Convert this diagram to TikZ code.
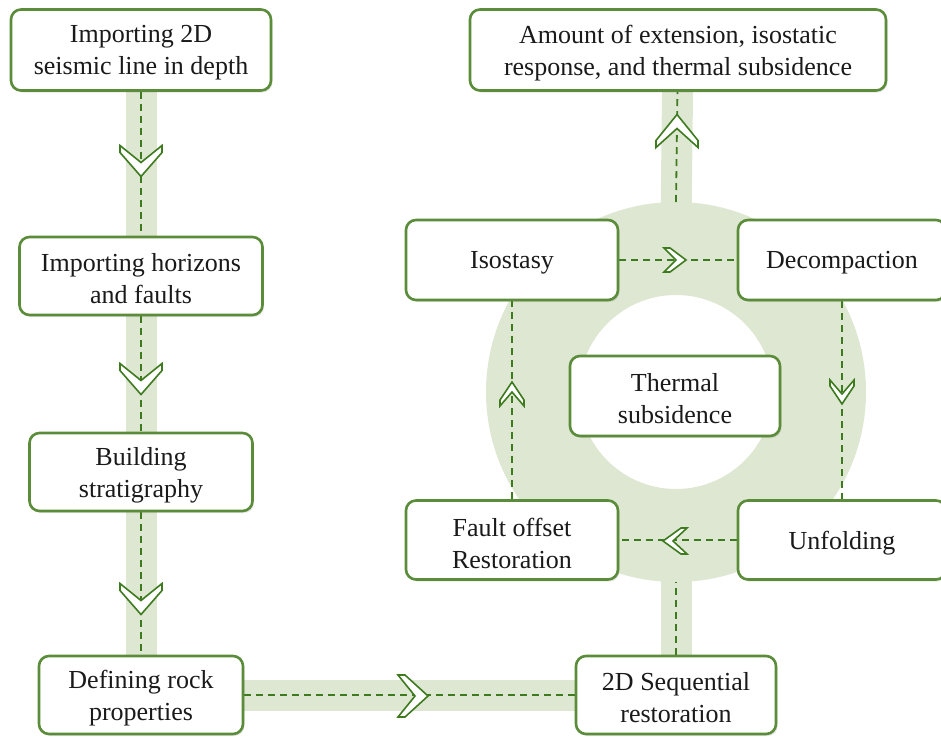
\documentclass[tikz,border=0pt]{standalone}
\usepackage{fontspec}
\setmainfont{Liberation Serif}
\usetikzlibrary{shadows}
\definecolor{boxgreen}{HTML}{5B8C3A}
\definecolor{bandgreen}{HTML}{DDE7D1}
\definecolor{dashgreen}{HTML}{3E7A1E}
\definecolor{txt}{HTML}{1A1A1A}
\newcommand\dn[1]{\raisebox{-3pt}[\height][\depth]{#1}}
\pgfdeclarelayer{bg}
\pgfdeclarelayer{mid}
\pgfsetlayers{bg,mid,main}
\tikzset{
  box/.style={draw=boxgreen, line width=2.6pt, rounded corners=10pt, fill=white,
    align=center, inner sep=0pt, text=txt, font=\fontsize{26}{32}\selectfont,
    drop shadow={shadow xshift=1.5pt, shadow yshift=-2pt, opacity=0.2}},
  bandline/.style={draw=bandgreen, line width=31pt},
  flow/.style={draw=dashgreen, line width=1.8pt, dash pattern=on 7pt off 5pt},
  chevline/.style={draw=dashgreen, fill=white, line width=1.6pt, line join=miter},
  pics/chev/.style n args={4}{code={
    \draw[chevline] (-#1/2,-#2) -- (-#1/2+#3,-#2) -- (#1/2,0) -- (-#1/2+#3,#2)
      -- (-#1/2,#2) -- (#1/2-#4,0) -- cycle;}}
}
\begin{document}
\begin{tikzpicture}[x=1pt,y=-1pt]
\useasboundingbox (0,0) rectangle (941,736);
% nodes
\node[box, minimum width=260pt, minimum height=81pt] (A) at (141,50) {\dn{Importing 2D}\\\dn{seismic line in depth}};
\node[box, minimum width=243pt, minimum height=78pt] (B) at (141,276) {\dn{Importing horizons}\\\dn{and faults}};
\node[box, minimum width=223pt, minimum height=78pt] (C) at (141,472) {\dn{Building}\\\dn{stratigraphy}};
\node[box, minimum width=204pt, minimum height=78pt] (D) at (141,695) {\dn{Defining rock}\\\dn{properties}};
\node[box, minimum width=200pt, minimum height=78pt] (E) at (676,695) {\dn{2D Sequential}\\\dn{restoration}};
\node[box, minimum width=212pt, minimum height=79pt] (F) at (512,540) {\dn{Fault offset}\\\dn{Restoration}};
\node[box, minimum width=208pt, minimum height=79pt] (G) at (842,540) {\dn{Unfolding}};
\node[box, minimum width=212pt, minimum height=80pt] (H) at (512,260) {\dn{Isostasy}};
\node[box, minimum width=208pt, minimum height=80pt] (I) at (842,260) {\dn{Decompaction}};
\node[box, minimum width=210pt, minimum height=80pt] (J) at (675,396) {\dn{Thermal}\\\dn{subsidence}};
\node[box, minimum width=416pt, minimum height=81pt] (K) at (678,50) {\dn{Amount of extension, isostatic}\\\dn{response, and thermal subsidence}};
\coordinate (ring) at (676,392);
\coordinate (ringtop) at (676,202);
\coordinate (ringbot) at (676,582);
\coordinate (ringtopin) at (676,225);
\coordinate (ringbotin) at (676,560);
% bands
\begin{pgfonlayer}{bg}
  \fill[bandgreen, even odd rule] (ring) circle[radius=190] (ring) circle[radius=97];
  \draw[bandline] (A.center) -- (D.center) -- (E.center);
  \draw[bandline] (E.center) -- (ringbotin);
  \draw[bandline] (K.center) -- (ringtopin);
\end{pgfonlayer}
% connectors and chevrons
\begin{pgfonlayer}{mid}
  \draw[flow] (A) -- (B);
  \draw[flow] (B) -- (C);
  \draw[flow] (C) -- (D);
  \draw[flow] (D) -- (E);
  \draw[flow] (E) -- (ringbot);
  \draw[flow] (ringtop) -- (K);
  \draw[flow] (H) -- (I);
  \draw[flow] (I) -- (G);
  \draw[flow] (G) -- (F);
  \draw[flow] (F) -- (H);
  \pic[rotate=-90] at (141,161) {chev={31}{21}{7}{14}};
  \pic[rotate=-90] at (141,379) {chev={31}{21}{7}{14}};
  \pic[rotate=-90] at (141,599) {chev={31}{21}{7}{14}};
  \pic at (413,696) {chev={30}{21}{7}{13}};
  \pic[rotate=90] at (677,131) {chev={33}{21}{7}{14}};
  \pic at (675,260) {chev={22}{12}{6}{10}};
  \pic[rotate=-90] at (842,392) {chev={24}{12}{6}{10}};
  \pic[rotate=180] at (675,541) {chev={24}{13}{6}{10}};
  \pic[rotate=90] at (512,394) {chev={24}{12}{6}{10}};
\end{pgfonlayer}
\end{tikzpicture}
\end{document}
